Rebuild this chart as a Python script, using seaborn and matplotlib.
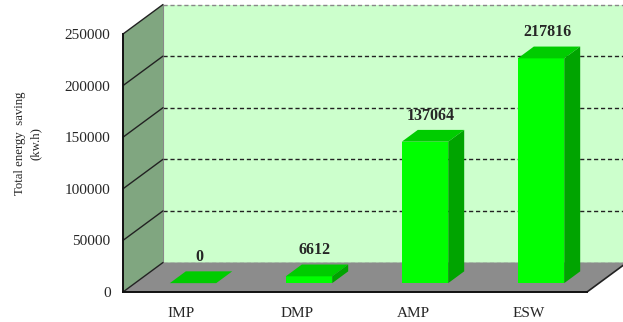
import seaborn as sns
import matplotlib.pyplot as plt
from matplotlib.patches import Polygon
from matplotlib.lines import Line2D
from matplotlib.transforms import IdentityTransform, ScaledTranslation

# data
categories = ["IMP", "DMP", "AMP", "ESW"]
savings = [0, 6612, 137064, 217816]
y_ticks = [0, 50000, 100000, 150000, 200000, 250000]

sns.set_style("white")
plt.rcParams["font.family"] = ["Liberation Serif", "DejaVu Serif"]

DPI = 100
DX, DY = 40, 29.5          # depth of the fake 3d box, in pixels
F1, F2 = 0.3, 0.7          # bar front / back as a fraction of the depth

fig = plt.figure(figsize=(6.23, 3.22), dpi=DPI)
ax = fig.add_axes([123 / 623, 30 / 322, 464 / 623, 258 / 322])

sns.barplot(x=categories, y=savings, color="#00ff00", saturation=1,
            width=0.4, ax=ax, zorder=3)
bars = list(ax.patches)
ax.set_xlim(-0.5, 3.5)
ax.set_ylim(0, 250000)
ax.patch.set_visible(False)


def px(x, y, f=0.0):
    X, Y = ax.transData.transform((x, y))
    return (X + f * DX, Y + f * DY)


def poly(pts, color, z, **kw):
    ax.add_patch(Polygon(pts, closed=True, facecolor=color, transform=IdentityTransform(),
                         clip_on=False, zorder=z, **kw))


def seg(p, q, z, **kw):
    ax.add_line(Line2D([p[0], q[0]], [p[1], q[1]], transform=IdentityTransform(),
                       clip_on=False, zorder=z, **kw))


x0, x1 = -0.5, 3.5
top = y_ticks[-1]

# back wall with dashed grid
poly([px(x0, 0, 1), px(x1 + 1, 0, 1), px(x1 + 1, top, 1), px(x0, top, 1)], "#ccffcc", 0,
     edgecolor="none")
for v in y_ticks:
    c = "#222222" if 0 < v < top else "#888888"
    seg(px(x0, v, 1), px(x1 + 1, v, 1), 0.5, color=c, lw=1.0, ls=(0, (3, 2)))
seg(px(x0, 0, 1), px(x0, top, 1), 0.6, color="#888888", lw=0.8)

# side wall
poly([px(x0, 0), px(x0, 0, 1), px(x0, top, 1), px(x0, top)], "#80a680", 0.7,
     edgecolor="none")
for v in y_ticks[1:]:
    seg(px(x0, v), px(x0, v, 1), 0.8, color="#222222", lw=1.0)

# floor
poly([px(x0, 0), px(x1, 0), px(x1, 0, 1), px(x0, 0, 1)], "#8c8c8c", 1,
     edgecolor="none")
seg(px(x1, 0), px(x1, 0, 1), 1.2, color="#222222", lw=1.2)
seg(px(x0, 0), px(x0, 0, 1), 1.2, color="#222222", lw=1.0)

# bars: shift the front faces back and add top / side faces
shift = ScaledTranslation(F1 * DX / DPI, F1 * DY / DPI, fig.dpi_scale_trans)
for p, v in zip(bars, savings):
    p.set_transform(ax.transData + shift)
    p.set_clip_on(False)
    p.set_edgecolor("none")
    a, w = p.get_x(), p.get_width()
    poly([px(a, v, F1), px(a + w, v, F1), px(a + w, v, F2), px(a, v, F2)], "#00cc00", 3.1,
         edgecolor="none")
    if v > 0:
        poly([px(a + w, 0, F1), px(a + w, 0, F2), px(a + w, v, F2), px(a + w, v, F1)],
             "#00a400", 3.1, edgecolor="none")
    ax.annotate(f"{v}", xy=(a + w / 2, v), xytext=(18, 35), textcoords="offset pixels",
                ha="center", va="center", fontsize=11.5, fontweight="bold",
                annotation_clip=False, zorder=5)

# axes lines and ticks
for side in ["top", "right"]:
    ax.spines[side].set_visible(False)
for side in ["left", "bottom"]:
    ax.spines[side].set_color("#111111")
    ax.spines[side].set_linewidth(1.4)
    ax.spines[side].set_zorder(4)

ax.set_yticks(y_ticks)
ax.set_yticklabels([str(t) for t in y_ticks])
ax.tick_params(axis="y", direction="out", length=3, width=1, pad=6, labelsize=11)
ax.set_xticks(range(len(categories)))
ax.set_xticklabels(categories)
ax.set_xticks([-0.5, 0.5, 1.5, 2.5, 3.5], minor=True)
ax.tick_params(axis="x", which="major", length=0, pad=11, labelsize=11)
ax.tick_params(axis="x", which="minor", direction="in", length=4, width=1)
ax.set_xlabel("")
ax.set_ylabel("Total energy  saving\n(kw.h)", fontsize=9.2, linespacing=1.4,
              va="center", ha="center")
ax.yaxis.set_label_coords(-0.205, 0.575)

ax.set_xlim(-0.5, 3.5)
ax.set_ylim(0, 250000)

fig.savefig("out.png", dpi=DPI)
